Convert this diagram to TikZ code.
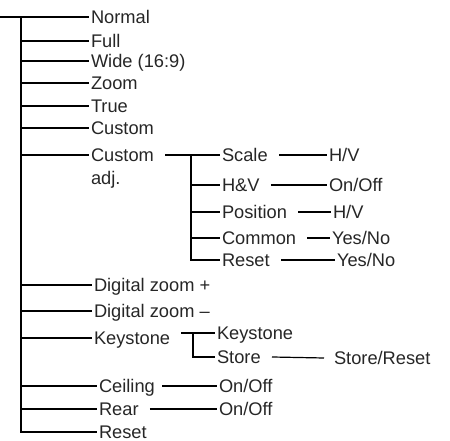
\documentclass[tikz,border=0pt]{standalone}
\usepackage{fontspec}
\setmainfont{Liberation Sans}
\usetikzlibrary{positioning}

\newcommand{\menuvar}{
\def\xtr{21}    % main trunk
\def\xsub{191}  % custom adj. sub trunk
\def\xkey{193}  % keystone sub trunk
\def\gap{7pt}   % space after a label
}

\begin{document}
\begin{tikzpicture}[x=0.75pt,y=-0.75pt,line width=0.9pt,
  lbl/.style={anchor=west,inner sep=0pt,outer sep=1.5pt,text height=9.8pt,
    text depth=0pt,text=black!85,font=\fontsize{13.7}{16}\selectfont}]
  \menuvar
  \useasboundingbox (0,0) rectangle (450,441);
  % main menu
  \coordinate (start) at (0,17);
  \coordinate (trunk) at (\xtr,17);
  \node[lbl] (normal) at (89,17) {Normal};
  \node[lbl] (full)   at (89,41) {Full};
  \node[lbl] (wide)   at (89,61) {Wide (16:9)};
  \node[lbl] (zoom)   at (89,83) {Zoom};
  \node[lbl] (true)   at (89,106) {True};
  \node[lbl] (custom) at (89,128) {Custom};
  \node[lbl] (cadj)   at (89,155) {Custom};
  \node[lbl] (adj)    at (89,178) {adj.};
  \node[lbl] (dzp)    at (92,285) {Digital zoom +};
  \node[lbl] (dzm)    at (92,311) {Digital zoom --};
  \node[lbl] (key)    at (92,338) {Keystone};
  \node[lbl] (ceil)   at (97,386) {Ceiling};
  \node[lbl] (rear)   at (97,409) {Rear};
  \node[lbl] (reset)  at (97,432) {Reset};
  \draw (start) -- (normal.west);
  \draw (trunk) |- (reset.west);
  \foreach \n in {full,wide,zoom,true,custom,cadj,dzp,dzm,key,ceil,rear}
    \draw (trunk |- \n.west) -- (\n.west);
  % custom adj.
  \node[lbl] (scale)  at (220,155) {Scale};
  \node[lbl] (hv)     at (220,185) {H\&V};
  \node[lbl] (pos)    at (220,212) {Position};
  \node[lbl] (common) at (220,238) {Common};
  \node[lbl] (sreset) at (220,260) {Reset};
  \node[lbl] (scalev)  at (327,155) {H/V};
  \node[lbl] (hvv)     at (327,185) {On/Off};
  \node[lbl] (posv)    at (331,212) {H/V};
  \node[lbl] (commonv) at (330,238) {Yes/No};
  \node[lbl] (sresetv) at (335,260) {Yes/No};
  \coordinate (subtr) at (\xsub,155);
  \draw ([xshift=\gap]cadj.east) -- (scale.west);
  \draw (subtr) |- (sreset.west);
  \foreach \n in {hv,pos,common}
    \draw (subtr |- \n.west) -- (\n.west);
  \foreach \n in {scale,hv,pos,common,sreset}
    \draw ([xshift=\gap]\n.east) -- (\n v.west);
  % keystone
  \node[lbl] (ks)    at (215,333) {Keystone};
  \node[lbl] (store) at (215,357) {Store};
  \node[lbl] (storev) at (332,358) {Store/Reset};
  \coordinate (keyj) at ([xshift=\gap]key.east);
  \coordinate (keytr) at (\xkey,333);
  \draw (keyj |- ks.west) -- (ks.west);
  \draw (keytr) |- (store.west);
  \draw ([xshift=\gap]store.east) -- ([xshift=-6pt]storev.west);
  % ceiling, rear
  \node[lbl] (ceilv) at (217,386) {On/Off};
  \node[lbl] (rearv) at (217,409) {On/Off};
  \draw ([xshift=4pt]ceil.east) -- (ceilv.west);
  \draw ([xshift=\gap]rear.east) -- (rearv.west);
\end{tikzpicture}
\end{document}
